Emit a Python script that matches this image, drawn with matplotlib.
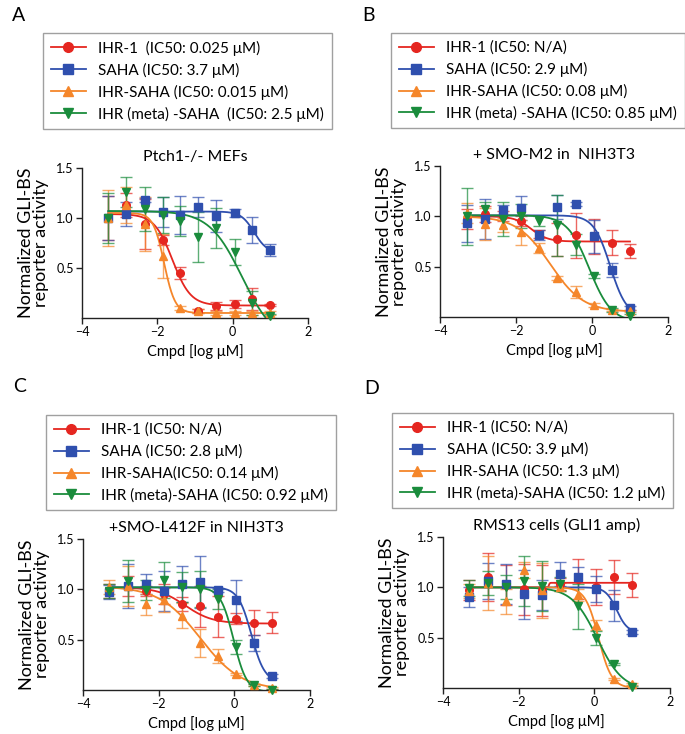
import numpy as np
import matplotlib
matplotlib.use("Agg")
import matplotlib.pyplot as plt
from matplotlib.lines import Line2D

plt.rcParams['font.family'] = ['Lato', 'DejaVu Sans']

# log10 dose [log uM], 3-fold dilution series from 10 uM
doses = [-3.30, -2.82, -2.34, -1.86, -1.39, -0.91, -0.43, 0.05, 0.52, 1.00]

compounds = ['IHR-1', 'SAHA', 'IHR-SAHA', 'IHR (meta)-SAHA']
colors = ['#e52620', '#2f4fae', '#f5862a', '#1a8c3c']
markers = ['o', 's', '^', 'v']

panel_letters = ['A', 'B', 'C', 'D']
panel_titles = ['Ptch1-/- MEFs', '+ SMO-M2 in  NIH3T3',
                '+SMO-L412F in NIH3T3', 'RMS13 cells (GLI1 amp)']

legend_a = ['IHR-1  (IC50: 0.025 μM)', 'SAHA (IC50: 3.7 μM)',
            'IHR-SAHA (IC50: 0.015 μM)', 'IHR (meta) -SAHA  (IC50: 2.5 μM)']
legend_b = ['IHR-1 (IC50: N/A)', 'SAHA (IC50: 2.9 μM)',
            'IHR-SAHA (IC50: 0.08 μM)', 'IHR (meta) -SAHA (IC50: 0.85 μM)']
legend_c = ['IHR-1 (IC50: N/A)', 'SAHA (IC50: 2.8 μM)',
            'IHR-SAHA(IC50: 0.14 μM)', 'IHR (meta)-SAHA (IC50: 0.92 μM)']
legend_d = ['IHR-1 (IC50: N/A)', 'SAHA (IC50: 3.9 μM)',
            'IHR-SAHA (IC50: 1.3 μM)', 'IHR (meta)-SAHA (IC50: 1.2 μM)']

# panel A - Ptch1-/- MEFs
a_ihr1 = [1.00, 1.13, 0.94, 0.78, 0.45, 0.07, 0.12, 0.14, 0.19, 0.13]
a_ihr1_err = [0.22, 0.12, 0.25, 0.05, 0.06, 0.02, 0.04, 0.04, 0.11, 0.01]
a_saha = [1.00, 1.04, 1.18, 1.06, 1.03, 1.11, 1.02, 1.05, 0.88, 0.68]
a_saha_err = [0.22, 0.12, 0.02, 0.15, 0.19, 0.10, 0.16, 0.04, 0.13, 0.06]
a_ihrsaha = [1.00, 1.13, 0.94, 0.62, 0.10, 0.07, 0.05, 0.05, 0.05, 0.05]
a_ihrsaha_err = [0.28, 0.18, 0.27, 0.22, 0.02, 0.02, 0.02, 0.02, 0.02, 0.02]
a_meta = [1.00, 1.26, 1.09, 1.03, 0.97, 0.81, 0.90, 0.66, 0.15, 0.02]
a_meta_err = [0.25, 0.15, 0.22, 0.18, 0.15, 0.25, 0.20, 0.13, 0.12, 0.02]

# panel B - SMO-M2 NIH3T3
b_ihr1 = [0.97, 1.02, 1.00, 0.95, 0.82, 0.77, 0.81, 0.80, 0.74, 0.66]
b_ihr1_err = [0.10, 0.08, 0.05, 0.05, 0.04, 0.16, 0.22, 0.17, 0.12, 0.07]
b_saha = [0.93, 0.97, 1.06, 1.08, 0.81, 1.09, 1.12, 0.80, 0.47, 0.09]
b_saha_err = [0.18, 0.20, 0.05, 0.12, 0.05, 0.12, 0.02, 0.16, 0.07, 0.02]
b_ihrsaha = [1.03, 0.92, 0.91, 0.84, 0.69, 0.39, 0.25, 0.12, 0.07, 0.06]
b_ihrsaha_err = [0.10, 0.16, 0.07, 0.12, 0.05, 0.02, 0.06, 0.02, 0.01, 0.01]
b_meta = [1.00, 1.07, 0.97, 1.00, 0.95, 0.91, 0.72, 0.41, 0.07, 0.01]
b_meta_err = [0.28, 0.07, 0.17, 0.12, 0.05, 0.30, 0.10, 0.02, 0.02, 0.02]

# panel C - SMO-L412F NIH3T3
c_ihr1 = [0.98, 1.03, 0.98, 0.95, 0.85, 0.83, 0.73, 0.71, 0.67, 0.67]
c_ihr1_err = [0.07, 0.10, 0.05, 0.10, 0.07, 0.20, 0.20, 0.05, 0.12, 0.10]
c_saha = [0.97, 1.03, 1.05, 0.98, 1.05, 1.07, 0.99, 0.89, 0.47, 0.14]
c_saha_err = [0.07, 0.22, 0.10, 0.20, 0.18, 0.26, 0.02, 0.20, 0.08, 0.02]
c_ihrsaha = [1.02, 1.03, 0.85, 0.89, 0.74, 0.47, 0.34, 0.16, 0.05, 0.02]
c_ihrsaha_err = [0.07, 0.20, 0.10, 0.12, 0.12, 0.14, 0.07, 0.01, 0.01, 0.01]
c_meta = [0.98, 1.08, 0.99, 1.09, 1.02, 1.00, 0.90, 0.43, 0.05, 0.00]
c_meta_err = [0.07, 0.21, 0.10, 0.18, 0.15, 0.18, 0.10, 0.07, 0.01, 0.01]

# panel D - RMS13 cells
d_ihr1 = [0.97, 1.10, 1.02, 0.98, 0.97, 1.03, 1.08, 1.00, 1.10, 1.02]
d_ihr1_err = [0.10, 0.24, 0.20, 0.25, 0.25, 0.06, 0.20, 0.18, 0.17, 0.12]
d_saha = [0.90, 1.06, 1.03, 0.93, 0.92, 1.13, 1.10, 0.98, 0.82, 0.56]
d_saha_err = [0.10, 0.18, 0.20, 0.24, 0.15, 0.12, 0.10, 0.13, 0.15, 0.02]
d_ihrsaha = [0.96, 1.04, 0.86, 1.17, 0.97, 1.00, 0.92, 0.63, 0.09, 0.04]
d_ihrsaha_err = [0.07, 0.27, 0.12, 0.08, 0.27, 0.04, 0.06, 0.05, 0.01, 0.01]
d_meta = [0.99, 1.04, 1.00, 1.06, 1.01, 1.03, 0.81, 0.50, 0.24, 0.01]
d_meta_err = [0.08, 0.12, 0.12, 0.25, 0.25, 0.07, 0.22, 0.07, 0.01, 0.01]

# fitted 4PL curves: top, bottom, logIC50, hill
a_fits = [(1.04, 0.125, -1.60, 1.8), (1.065, 0.65, 0.57, 2.5),
          (1.05, 0.05, -1.82, 3.0), (1.07, -0.25, 0.25, 1.0)]
b_fits = [(1.00, 0.75, -1.60, 2.0), (1.01, 0.00, 0.48, 2.0),
          (1.00, 0.05, -1.10, 1.0), (1.01, -0.05, -0.07, 1.5)]
c_fits = [(1.02, 0.66, -1.30, 1.2), (1.02, 0.08, 0.45, 2.5),
          (1.03, 0.00, -0.90, 0.8), (1.02, -0.02, -0.02, 2.5)]
d_fits = [(1.00, 1.045, -1.20, 40.0), (1.00, 0.55, 0.59, 3.0),
          (1.00, 0.00, 0.11, 2.5), (1.00, -0.02, 0.08, 1.3)]

panel_data = [
    ([a_ihr1, a_saha, a_ihrsaha, a_meta], [a_ihr1_err, a_saha_err, a_ihrsaha_err, a_meta_err], a_fits, legend_a),
    ([b_ihr1, b_saha, b_ihrsaha, b_meta], [b_ihr1_err, b_saha_err, b_ihrsaha_err, b_meta_err], b_fits, legend_b),
    ([c_ihr1, c_saha, c_ihrsaha, c_meta], [c_ihr1_err, c_saha_err, c_ihrsaha_err, c_meta_err], c_fits, legend_c),
    ([d_ihr1, d_saha, d_ihrsaha, d_meta], [d_ihr1_err, d_saha_err, d_ihrsaha_err, d_meta_err], d_fits, legend_d),
]

W, H = 685, 734
# axes boxes in pixels: left, top, right, bottom
axes_px = [(82, 168, 308, 318), (440, 166, 668, 317),
           (83, 539, 310, 690), (443, 537, 670, 688)]
legend_px = [(43, 33), (391, 33), (46, 415), (392, 413)]
letter_px = [(12, 21), (362, 21), (13, 392), (364, 394)]


def logistic(x, top, bottom, logic, hill):
    return bottom + (top - bottom) / (1 + 10 ** ((x - logic) * hill))


fig = plt.figure(figsize=(W / 100, H / 100), dpi=100)

for i in range(4):
    ys, errs, fits, labels = panel_data[i]
    l, t, r, b = axes_px[i]
    ax = fig.add_axes([l / W, 1 - b / H, (r - l) / W, (b - t) / H])

    xs = np.linspace(doses[0], doses[-1], 400)
    for k in range(4):
        ax.errorbar(doses, ys[k], yerr=errs[k], fmt='none', ecolor=colors[k],
                    alpha=0.7, elinewidth=1.0, capsize=4, capthick=1.0, zorder=2)
        ax.plot(xs, logistic(xs, *fits[k]), color=colors[k], lw=1.3, zorder=3)
        ax.plot(doses, ys[k], linestyle='none', marker=markers[k], ms=5.5,
                color=colors[k], zorder=4, clip_on=False)

    ax.set_xlim(-4, 2)
    ax.set_ylim(0, 1.5)
    ax.set_xticks([-4, -2, 0, 2])
    ax.set_yticks([0.5, 1.0, 1.5])
    ax.set_yticklabels(['0.5', '1.0', '1.5'])
    for s in ['top', 'right']:
        ax.spines[s].set_visible(False)
    for s in ['left', 'bottom']:
        ax.spines[s].set_linewidth(1.0)
        ax.spines[s].set_color('#222222')
    ax.tick_params(direction='out', length=4, width=1.0, labelsize=9,
                   color='#222222', pad=2)
    ax.set_xlabel('Cmpd [log μM]', fontsize=10.5, labelpad=4)
    ax.set_ylabel('Normalized GLI-BS\nreporter activity', fontsize=13,
                  labelpad=5, linespacing=0.95)
    ax.set_title(panel_titles[i], fontsize=11.5, pad=5)

    handles = [Line2D([], [], color=colors[k], marker=markers[k], ms=7, lw=1.3)
               for k in range(4)]
    lx, ly = legend_px[i]
    leg = fig.legend(handles, labels, loc='upper left',
                     bbox_to_anchor=(lx / W, 1 - ly / H), fontsize=11,
                     frameon=True, fancybox=False, handlelength=2.3,
                     labelspacing=0.45, borderpad=0.5, handletextpad=0.8,
                     borderaxespad=0)
    leg.get_frame().set_edgecolor('#888888')
    leg.get_frame().set_linewidth(1.0)

    px, py = letter_px[i]
    fig.text(px / W, 1 - py / H, panel_letters[i], fontsize=14, va='baseline')

fig.savefig('out.png', dpi=100)
